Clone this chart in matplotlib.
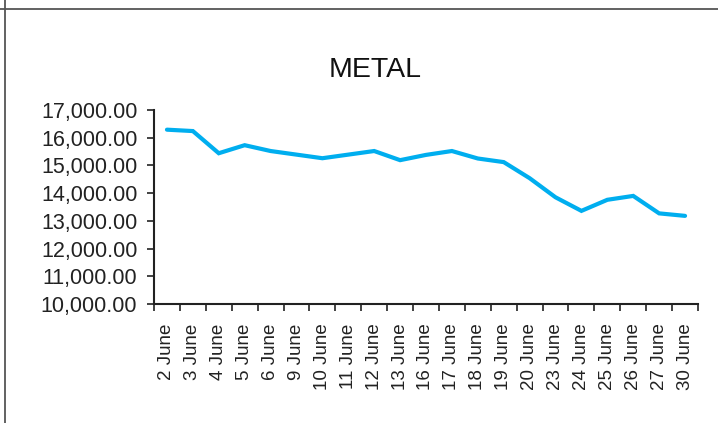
import numpy as np
import matplotlib.pyplot as plt
from matplotlib.lines import Line2D

# ====== DATA ======
dates = ['2 June', '3 June', '4 June', '5 June', '6 June', '9 June', '10 June',
         '11 June', '12 June', '13 June', '16 June', '17 June', '18 June', '19 June',
         '20 June', '23 June', '24 June', '25 June', '26 June', '27 June', '30 June']
metal = [16290, 16240, 15440, 15730, 15520, 15390, 15260,
         15390, 15520, 15190, 15380, 15520, 15250, 15120,
         14540, 13850, 13360, 13760, 13900, 13270, 13180]
yticks = np.arange(10000, 17001, 1000)

plt.rcParams['font.family'] = ['Liberation Sans', 'DejaVu Sans']

W, H = 718, 423
fig = plt.figure(figsize=(W/100, H/100), dpi=100)

# page frame lines
fig.add_artist(Line2D([0, 1], [1 - 9/H, 1 - 9/H], color='#555555', lw=1.3))
fig.add_artist(Line2D([5/W, 5/W], [0, 1], color='#555555', lw=1.3))

ax = fig.add_axes([154/W, 1 - 304/H, (698 - 154)/W, (304 - 110)/H])

x = np.arange(len(dates))
ax.plot(x, metal, color='#00AEEF', lw=3, solid_capstyle='round', solid_joinstyle='miter')

ax.set_xlim(-0.5, len(dates) - 0.5)
ax.set_ylim(10000, 17000)
ax.set_yticks(yticks)
ax.set_yticklabels(['{:,.2f}'.format(v) for v in yticks], fontsize=15.5, color='#222222')

ax.set_xticks(x)
ax.set_xticklabels(dates, rotation=90, fontsize=13.5, color='#222222')
ax.set_xticks(np.arange(len(dates) + 1) - 0.5, minor=True)
ax.tick_params(axis='x', which='major', length=0, pad=14)
ax.tick_params(axis='x', which='minor', length=5, width=1.2, color='#222222', direction='out')
ax.tick_params(axis='y', length=5, width=1.2, color='#222222', pad=7)

for s in ['top', 'right']:
    ax.spines[s].set_visible(False)
for s in ['left', 'bottom']:
    ax.spines[s].set_linewidth(1.5)
    ax.spines[s].set_color('#222222')

fig.text(375/W, 1 - 77/H, 'METAL', ha='center', va='baseline', fontsize=20.5, color='#111111')

plt.savefig('out.png', dpi=100)
